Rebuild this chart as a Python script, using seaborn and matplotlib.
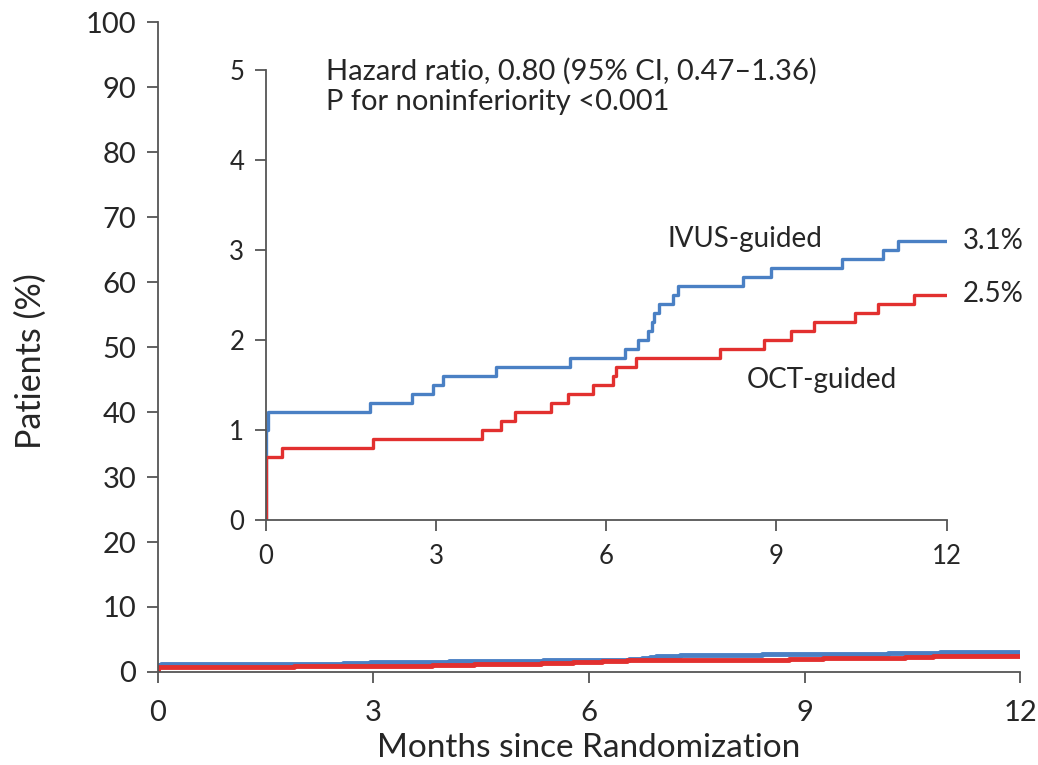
import pandas as pd
import matplotlib.pyplot as plt
import seaborn as sns

sns.set_style("white")
plt.rcParams["font.family"] = ["Lato", "DejaVu Sans"]

# step curves (months, cumulative %)
ivus_t = [0, 0, 0.04, 1.83, 2.57, 2.95, 3.12, 4.05, 5.36, 6.34, 6.56, 6.74, 6.80,
          6.85, 6.93, 7.17, 7.27, 8.41, 8.91, 10.16, 10.88, 11.14, 12.0]
ivus_v = [0.0, 1.00, 1.20, 1.30, 1.40, 1.50, 1.60, 1.70, 1.80, 1.90, 2.00, 2.10, 2.20,
          2.30, 2.40, 2.50, 2.60, 2.70, 2.80, 2.90, 3.00, 3.10, 3.10]
oct_t = [0, 0, 0.29, 1.89, 3.81, 4.14, 4.40, 5.03, 5.33, 5.77, 6.12, 6.18, 6.53,
         8.00, 8.78, 9.26, 9.67, 10.39, 10.79, 11.42, 12.0]
oct_v = [0.0, 0.70, 0.80, 0.90, 1.00, 1.10, 1.20, 1.30, 1.40, 1.50, 1.60, 1.70, 1.80,
         1.90, 2.00, 2.10, 2.20, 2.30, 2.40, 2.50, 2.50]

x_ticks = [0, 3, 6, 9, 12]
main_y_ticks = list(range(0, 101, 10))
inset_y_ticks = [0, 1, 2, 3, 4, 5]

BLUE = "#4a80c4"
RED = "#e2302f"
GREY = "#555555"

df = pd.concat([
    pd.DataFrame({"month": ivus_t, "pct": ivus_v, "group": "IVUS-guided"}),
    pd.DataFrame({"month": oct_t, "pct": oct_v, "group": "OCT-guided"}),
], ignore_index=True)
palette = {"IVUS-guided": BLUE, "OCT-guided": RED}


def style_axis(ax, xpad, ypad):
    sns.despine(ax=ax)
    for s in ["left", "bottom"]:
        ax.spines[s].set_color(GREY)
        ax.spines[s].set_linewidth(1.3)
    ax.tick_params(axis="both", direction="out", length=8, width=1.3,
                   color=GREY, left=True, bottom=True)
    ax.tick_params(axis="x", pad=xpad)
    ax.tick_params(axis="y", pad=ypad)


fig = plt.figure(figsize=(10.38, 7.65), dpi=100)
ax = fig.add_axes([0.152, 0.1216, 0.831, 0.8494])

sns.lineplot(data=df, x="month", y="pct", hue="group", palette=palette,
             estimator=None, sort=False, drawstyle="steps-post",
             linewidth=3.5, legend=False, ax=ax)
ax.set_xlim(0, 12)
ax.set_ylim(0, 100)
ax.set_xticks(x_ticks)
ax.set_yticks(main_y_ticks)
ax.tick_params(labelsize=21)
ax.set_xlabel("Months since Randomization", fontsize=24)
ax.set_ylabel("Patients (%)", fontsize=24.5)
ax.xaxis.set_label_coords(0.5, -0.094)
ax.yaxis.set_label_coords(-0.129, 0.478)
style_axis(ax, xpad=12, ypad=7.5)

ins = fig.add_axes([0.256, 0.320, 0.656, 0.588])
sns.lineplot(data=df, x="month", y="pct", hue="group", palette=palette,
             estimator=None, sort=False, drawstyle="steps-post",
             linewidth=2.4, legend=False, ax=ins)
ins.set_xlim(0, 12)
ins.set_ylim(0, 5)
ins.set_xticks(x_ticks)
ins.set_yticks(inset_y_ticks)
ins.tick_params(labelsize=18.5)
ins.set_xlabel("")
ins.set_ylabel("")
ins.patch.set_alpha(0)
style_axis(ins, xpad=9, ypad=7.5)

ins.text(1.07, 4.90, "Hazard ratio, 0.80 (95% CI, 0.47\u20131.36)", fontsize=21,
         va="baseline")
ins.text(1.07, 4.555, "P for noninferiority <0.001", fontsize=21, va="baseline")
ins.text(7.08, 3.04, "IVUS-guided", fontsize=20, va="baseline")
ins.text(8.47, 1.47, "OCT-guided", fontsize=20, va="baseline")
ins.text(12.28, 3.02, "3.1%", fontsize=20, va="baseline")
ins.text(12.28, 2.43, "2.5%", fontsize=20, va="baseline")

fig.savefig("out.png", dpi=100)
